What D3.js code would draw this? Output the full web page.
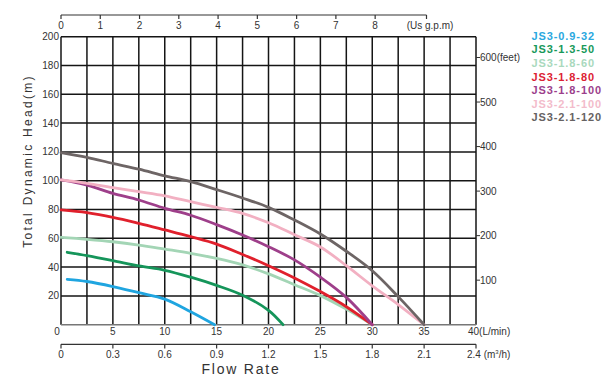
<!DOCTYPE html>
<html>
<head>
<meta charset="utf-8">
<script src="https://cdn.jsdelivr.net/npm/d3@7.9.0/dist/d3.min.js"></script>
<style>
  body { margin: 0; background: #fff; }
  svg { display: block; font-family: "Liberation Sans", Arial, sans-serif; }
</style>
</head>
<body>
<svg width="607" height="383"></svg>
<script>
// pump curves, flow in L/min, head in m
const names = ['JS3-0.9-32', 'JS3-1.3-50', 'JS3-1.8-60', 'JS3-1.8-80', 'JS3-1.8-100', 'JS3-2.1-100', 'JS3-2.1-120'];
const lineColors = ['#1fa5e0', '#15955a', '#a3d5b5', '#e0202c', '#9e3f8a', '#f2b0c2', '#6d6565'];
const legendColors = ['#2aa8e0', '#18995a', '#a9d9bd', '#dc2233', '#9c3f8c', '#f3bccb', '#666262'];

const flow32 = [0.6, 2.5, 5, 7.5, 10, 12.5, 14.8];
const head32 = [31.5, 30, 26.5, 22.2, 17.8, 9, 0];
const flow50 = [0.6, 2.5, 5, 7.5, 10, 12.5, 15, 17.5, 20, 21.4];
const head50 = [50.3, 48, 44.5, 40.8, 37.8, 33, 27.3, 20.5, 10, 0];
const flow60 = [0, 2.5, 5, 7.5, 10, 12.5, 15, 17.5, 20, 22.5, 25, 27.5, 30];
const head60 = [60.7, 59.3, 57.6, 55.3, 52.5, 49.6, 46, 41.5, 35.3, 27.8, 20.2, 10.8, 0];
const flow80 = [0, 2.5, 5, 7.5, 10, 12.5, 15, 17.5, 20, 22.5, 25, 27.5, 30];
const head80 = [79.7, 77.8, 74.6, 70.4, 65.8, 61.1, 56, 48.8, 41, 32.5, 23, 12.5, 0];
const flow100a = [0, 2.5, 5, 7.5, 10, 12.5, 15, 17.5, 20, 22.5, 25, 27.5, 30];
const head100a = [100.5, 97, 91.2, 86.6, 80.8, 76, 69.5, 62.3, 54.2, 45, 33, 19, 0];
const flow100b = [0, 2.5, 5, 7.5, 10, 12.5, 15, 17.5, 20, 22.5, 25, 27.5, 30, 32.5, 35];
const head100b = [100.5, 98.2, 95.2, 92.4, 89.5, 85.4, 81.5, 77.3, 70.8, 62.5, 54, 41, 27, 14, 0];
const flow120 = [0, 2.5, 5, 7.5, 10, 12.5, 15, 17.5, 20, 22.5, 25, 27.5, 30, 32.5, 35];
const head120 = [119.5, 116.2, 112, 108, 103.4, 99.3, 93.8, 88, 81.5, 72.7, 63, 51, 37.5, 19.5, 0];

const flows = [flow32, flow50, flow60, flow80, flow100a, flow100b, flow120];
const heads = [head32, head50, head60, head80, head100a, head100b, head120];

const headTicks = [20, 40, 60, 80, 100, 120, 140, 160, 180, 200];
const lminTicks = [0, 5, 10, 15, 20, 25, 30, 35];
const gpmTicks = [0, 1, 2, 3, 4, 5, 6, 7, 8];
const m3hTicks = [0, 0.3, 0.6, 0.9, 1.2, 1.5, 1.8, 2.1];
const feetTicks = [100, 200, 300, 400, 500];

let svg = d3.select('svg');

let x = d3.scaleLinear().domain([0, 40]).range([61, 476]);
let y = d3.scaleLinear().domain([0, 200]).range([324.7, 36.7]);
let yFeet = d3.scaleLinear().domain([0, 600]).range([324.7, 57.5]);

// grid
let grid = svg.append('g');
d3.range(0, 40.01, 2.5).forEach((v) => {
    grid.append('line')
        .attr('x1', x(v)).attr('x2', x(v))
        .attr('y1', y(0)).attr('y2', y(200))
        .attr('stroke', '#151515').attr('stroke-width', 1.5);
});
d3.range(20, 200.01, 20).forEach((v) => {
    grid.append('line')
        .attr('x1', x(0)).attr('x2', x(40))
        .attr('y1', y(v)).attr('y2', y(v))
        .attr('stroke', '#151515').attr('stroke-width', 1.5);
});
grid.append('line')
    .attr('x1', x(0)).attr('x2', x(40))
    .attr('y1', y(0)).attr('y2', y(0))
    .attr('stroke', '#777').attr('stroke-width', 1.5);

// curves
let line = d3.line()
    .x((d) => x(d[0]))
    .y((d) => y(d[1]))
    .curve(d3.curveCatmullRom.alpha(0.5));

flows.forEach((f, i) => {
    let pts = f.map((v, j) => [v, heads[i][j]]);
    svg.append('path')
        .attr('d', line(pts))
        .attr('fill', 'none')
        .attr('stroke', lineColors[i])
        .attr('stroke-width', 2.8)
        .attr('stroke-linecap', 'round');
});

// left axis labels
headTicks.forEach((v) => {
    svg.append('text')
        .attr('x', 59).attr('y', y(v) + 3.5)
        .attr('text-anchor', 'end')
        .attr('font-size', 10).attr('fill', '#333')
        .text(v);
});

// bottom L/min labels
lminTicks.forEach((v) => {
    svg.append('text')
        .attr('x', v === 0 ? x(v) - 4 : x(v)).attr('y', 334.5)
        .attr('text-anchor', 'middle')
        .attr('font-size', 10).attr('fill', '#333')
        .text(v);
});
svg.append('text')
    .attr('x', x(40) - 8).attr('y', 334.5)
    .attr('font-size', 10).attr('fill', '#333')
    .text('40(L/min)');

// right feet labels
feetTicks.concat([600]).forEach((v) => {
    svg.append('line')
        .attr('x1', x(40)).attr('x2', x(40) + 4)
        .attr('y1', yFeet(v)).attr('y2', yFeet(v))
        .attr('stroke', '#333').attr('stroke-width', 1);
    svg.append('text')
        .attr('x', x(40) + 4).attr('y', yFeet(v) + 3.5)
        .attr('font-size', 10).attr('fill', '#333')
        .text(v === 600 ? '600(feet)' : v);
});

// top gpm axis
let gpmX = (g) => x(g * 3.785);
let gpmEnd = 426.5;
svg.append('line')
    .attr('x1', gpmX(0)).attr('x2', gpmEnd)
    .attr('y1', 15).attr('y2', 15)
    .attr('stroke', '#333').attr('stroke-width', 1.2);
gpmTicks.forEach((v) => {
    svg.append('line')
        .attr('x1', gpmX(v)).attr('x2', gpmX(v))
        .attr('y1', 15).attr('y2', 19)
        .attr('stroke', '#333').attr('stroke-width', 1.2);
    svg.append('text')
        .attr('x', gpmX(v)).attr('y', 28.5)
        .attr('text-anchor', 'middle')
        .attr('font-size', 10).attr('fill', '#333')
        .text(v);
});
svg.append('line')
    .attr('x1', gpmEnd).attr('x2', gpmEnd)
    .attr('y1', 15).attr('y2', 19)
    .attr('stroke', '#333').attr('stroke-width', 1.2);
svg.append('text')
    .attr('x', 430).attr('y', 28.5)
    .attr('text-anchor', 'middle')
    .attr('font-size', 10).attr('fill', '#333')
    .text('(Us g.p.m)');

// bottom m3/h axis
let m3X = (m) => x(m * 1000 / 60);
svg.append('line')
    .attr('x1', m3X(0)).attr('x2', m3X(2.4))
    .attr('y1', 344.3).attr('y2', 344.3)
    .attr('stroke', '#333').attr('stroke-width', 1.2);
m3hTicks.concat([2.4]).forEach((v) => {
    svg.append('line')
        .attr('x1', m3X(v)).attr('x2', m3X(v))
        .attr('y1', 344.3).attr('y2', 348.5)
        .attr('stroke', '#333').attr('stroke-width', 1.2);
});
m3hTicks.forEach((v) => {
    svg.append('text')
        .attr('x', m3X(v)).attr('y', 358)
        .attr('text-anchor', 'middle')
        .attr('font-size', 10).attr('fill', '#333')
        .text(v);
});
let m3Label = svg.append('text')
    .attr('x', m3X(2.4) - 9).attr('y', 358)
    .attr('font-size', 10).attr('fill', '#333');
m3Label.append('tspan').text('2.4 (m');
m3Label.append('tspan').attr('font-size', 6).attr('dy', -4).text('3');
m3Label.append('tspan').attr('dy', 4).text('/h)');

// titles
svg.append('text')
    .attr('x', 241).attr('y', 374)
    .attr('text-anchor', 'middle')
    .attr('font-size', 14).attr('letter-spacing', 1.8)
    .attr('fill', '#333')
    .text('Flow Rate');

svg.append('text')
    .attr('transform', 'translate(32,161) rotate(-90)')
    .attr('text-anchor', 'middle')
    .attr('font-size', 12).attr('letter-spacing', 2.3)
    .attr('fill', '#333')
    .text('Total Dynamic Head(m)');

// legend
names.forEach((n, i) => {
    svg.append('text')
        .attr('x', 531.5).attr('y', 39.7 + i * 13.6)
        .attr('font-size', 11).attr('font-weight', 'bold')
        .attr('letter-spacing', 0.9)
        .attr('fill', legendColors[i])
        .text(n);
});
</script>
</body>
</html>
